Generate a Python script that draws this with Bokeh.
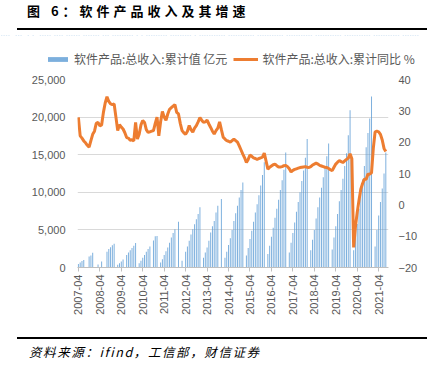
import math
import pandas as pd
from bokeh.plotting import figure
from bokeh.models import (ColumnDataSource, Range1d, LinearAxis, FixedTicker,
                          NumeralTickFormatter, Legend, LegendItem, Div)
from bokeh.layouts import column
from bokeh.embed import file_html
from bokeh.resources import INLINE

# ---------------- data ----------------
first_month = "2007-04"
last_month = "2021-08"

# cumulative revenue (亿元), None = no data that month
revenue_2007 = [450, 650, 850, 1000, None, None, 1450, 1600, 1950]
revenue_2008 = [None, None, 400, None, 800, None, None, 2100, 2450, 2700, 2950, 3150]
revenue_2009 = [None, 350, 550, 800, 1050, None, 1650, 2000, 2300, 2600, 2900, 3250]
revenue_2010 = [None, 550, 900, 1300, 1650, 2100, 2450, 2800, None, 3600, 4150, 4200]
revenue_2011 = [None, 650, 1100, 1650, 2150, 2650, 3300, 4000, 4600, 5100, None, 6100]
revenue_2012 = [None, 900, None, 2100, 2800, 3550, 4400, 5100, 5750, 6400, 7100, 8000]
revenue_2013 = [None, 1300, 2000, 2650, 3550, 4650, 5500, 6200, 7300, 8200, None, 9100]
revenue_2014 = [None, 1300, 2100, 3000, 3900, 5000, 6200, 7200, 8200, 9300, 10300, 11300]
revenue_2015 = [None, 1600, 2600, 3800, 4900, 6100, 7300, 8400, 9600, 10900, 12300, 14000]
revenue_2016 = [None, 1800, 2900, 4100, 5300, 6600, 7800, 9000, 10300, 11600, 13000, 15300]
revenue_2017 = [None, 2000, 3300, 4600, 6000, 7400, 8700, 10000, 11500, 12900, 14600, 17100]
revenue_2018 = [None, 2300, 3700, 5000, 6500, 8000, 9300, 10600, 12000, 13300, 14800, 16500]
revenue_2019 = [None, 2400, 4000, 5500, 7100, 8800, 10300, 11800, 13500, 15200, 17600, 20900]
revenue_2020 = [None, 2300, 4000, 5800, 7800, 9900, 11700, 13500, 16000, 17900, 19800, 22750]
revenue_2021 = [None, 2800, 5000, 6900, 8700, 10500, 12500, 15300]

# cumulative YoY growth (%)
growth_2007 = [27.9, 22.0, 21.3, 20.4, 19.8, 19.0, 18.4, 20.5, 22.5]
growth_2008 = [23.5, 26.0, 26.3, 25.2, 25.5, 29.5, 32.5, 34.5, 33.0, 32.2, 32.0, 32.2]
growth_2009 = [28.0, 23.7, 25.6, 24.8, 24.2, 23.0, 21.5, 21.3, 20.6, 20.8, 20.4, 26.3]
growth_2010 = [21.0, 22.5, 25.5, 26.9, 26.3, 24.0, 23.1, 23.3, 23.5, 23.7, 26.0, 28.0]
growth_2011 = [22.0, 26.5, 29.8, 28.0, 27.0, 29.0, 30.5, 31.0, 31.5, 32.0, 29.5, 29.0]
growth_2012 = [26.0, 23.7, 23.0, 22.5, 23.5, 25.3, 24.0, 23.2, 24.5, 25.3, 26.5, 27.8]
growth_2013 = [27.0, 26.3, 26.5, 27.0, 25.8, 24.7, 23.5, 22.6, 23.7, 24.5, 26.5, 24.0]
growth_2014 = [21.6, 21.0, 20.5, 20.3, 20.0, 20.5, 21.0, 20.5, 20.0, 18.8, 17.5, 16.2]
growth_2015 = [15.0, 13.5, 14.5, 15.9, 15.5, 15.0, 14.8, 14.5, 14.8, 15.0, 15.2, 16.5]
growth_2016 = [14.0, 11.4, 12.0, 12.4, 12.8, 13.0, 12.5, 12.1, 12.1, 12.2, 12.5, 12.6]
growth_2017 = [12.2, 11.5, 10.5, 11.0, 11.3, 11.5, 11.7, 11.9, 12.0, 12.1, 12.2, 12.0]
growth_2018 = [11.9, 12.2, 12.7, 13.0, 13.3, 13.0, 12.6, 12.4, 12.2, 12.0, 11.9, 11.6]
growth_2019 = [11.2, 10.9, 12.0, 13.0, 13.6, 14.1, 13.8, 13.5, 14.0, 14.5, 14.9, 16.3]
growth_2020 = [14.7, -13.6, -7.0, -2.4, 1.5, 5.0, 6.8, 8.2, 8.2, 9.8, 9.8, 10.2]
growth_2021 = [18.0, 23.3, 23.5, 23.3, 22.5, 20.7, 18.0, 17.0]

x_tick_labels = ["2007-04", "2008-04", "2009-04", "2010-04", "2011-04", "2012-04",
                 "2013-04", "2014-04", "2015-04", "2016-04", "2017-04", "2018-04",
                 "2019-04", "2020-04", "2021-04"]

left_ticks = [0, 5000, 10000, 15000, 20000, 25000]
right_ticks = [-20, -10, 0, 10, 20, 30, 40]

title_text = "图 6：软件产品收入及其增速"
source_text = "资料来源：ifind，工信部，财信证券"
bar_name = "软件产品:总收入:累计值 亿元"
line_name = "软件产品:总收入:累计同比 %"

# ---------------- assemble ----------------
months = [str(p) for p in pd.period_range(first_month, last_month, freq="M")]
revenue = (revenue_2007 + revenue_2008 + revenue_2009 + revenue_2010 + revenue_2011 +
           revenue_2012 + revenue_2013 + revenue_2014 + revenue_2015 + revenue_2016 +
           revenue_2017 + revenue_2018 + revenue_2019 + revenue_2020 + revenue_2021)
growth = (growth_2007 + growth_2008 + growth_2009 + growth_2010 + growth_2011 +
          growth_2012 + growth_2013 + growth_2014 + growth_2015 + growth_2016 +
          growth_2017 + growth_2018 + growth_2019 + growth_2020 + growth_2021)
idx = list(range(len(months)))

bar_src = ColumnDataSource(dict(
    x=[i for i, v in zip(idx, revenue) if v is not None],
    top=[v for v in revenue if v is not None]))
line_src = ColumnDataSource(dict(x=idx, y=growth))

TXT = "#595959"
NUM_FONT = "Liberation Sans"
CJK_FONT = "Noto Sans CJK SC"
BAR_COLOR = "#5B9BD5"
LINE_COLOR = "#ED7D31"

# ---------------- main chart ----------------
p = figure(width=421, height=263, output_backend="svg", toolbar_location=None,
           x_range=Range1d(-0.5, len(months) + 0.5), y_range=Range1d(0, 25000),
           min_border_left=77, min_border_right=33, min_border_top=10,
           min_border_bottom=65)
p.outline_line_color = None
p.background_fill_color = "white"
p.border_fill_color = "white"
p.extra_y_ranges = {"pct": Range1d(-20, 40)}

bars = p.vbar(x="x", top="top", width=0.55, source=bar_src,
              fill_color=BAR_COLOR, fill_alpha=0.8, line_color=None)
ln = p.line(x="x", y="y", source=line_src, y_range_name="pct",
            line_color=LINE_COLOR, line_width=3)

ya = p.yaxis[0]
ya.ticker = FixedTicker(ticks=left_ticks)
ya.formatter = NumeralTickFormatter(format="0,0")
ya.axis_line_color = None
ya.major_tick_line_color = None
ya.minor_tick_line_color = None
ya.major_tick_out = 0
ya.major_label_standoff = 12
ya.major_label_text_color = TXT
ya.major_label_text_font = NUM_FONT
ya.major_label_text_font_size = "11px"

ra = LinearAxis(y_range_name="pct", ticker=FixedTicker(ticks=right_ticks))
ra.axis_line_color = None
ra.major_tick_line_color = None
ra.minor_tick_line_color = None
ra.major_tick_out = 0
ra.major_label_standoff = 10
ra.major_label_text_color = TXT
ra.major_label_text_font = NUM_FONT
ra.major_label_text_font_size = "11px"
p.add_layout(ra, "right")

xa = p.xaxis[0]
tick_pos = [months.index(t) for t in x_tick_labels]
xa.ticker = FixedTicker(ticks=tick_pos)
xa.major_label_overrides = {pos: lab for pos, lab in zip(tick_pos, x_tick_labels)}
xa.major_label_orientation = math.pi / 2
xa.axis_line_color = "#BFBFBF"
xa.major_tick_line_color = "#BFBFBF"
xa.major_tick_out = 4
xa.major_tick_in = 0
xa.minor_tick_line_color = None
xa.major_label_standoff = 3
xa.major_label_text_color = TXT
xa.major_label_text_font = NUM_FONT
xa.major_label_text_font_size = "11px"

p.xgrid.grid_line_color = None
p.ygrid.ticker = FixedTicker(ticks=left_ticks)
p.ygrid.grid_line_color = "#D9D9D9"
p.ygrid.grid_line_width = 1

# ---------------- legend strip ----------------
# same data sources, drawn outside this strip's visible ranges; only the legend shows
lg = figure(width=421, height=34, output_backend="svg", toolbar_location=None,
            x_range=Range1d(-0.5, len(months) + 0.5), y_range=Range1d(-1e6, -9e5),
            min_border=0, min_border_left=0, min_border_right=0,
            min_border_top=0, min_border_bottom=0,
            x_axis_type=None, y_axis_type=None)
lg.outline_line_color = None
lg.xgrid.visible = False
lg.ygrid.visible = False
proxy_bar = lg.vbar(x="x", top="top", width=0.55, source=bar_src,
                    fill_color=BAR_COLOR, fill_alpha=0.8, line_color=None)
proxy_line = lg.line(x="x", y="y", source=line_src, line_color=LINE_COLOR,
                     line_width=3)
legend = Legend(items=[LegendItem(label=bar_name, renderers=[proxy_bar]),
                       LegendItem(label=line_name, renderers=[proxy_line])],
                orientation="horizontal", location=(45, 2),
                glyph_width=25, glyph_height=6, label_height=14,
                label_standoff=4, spacing=6, padding=0, margin=0,
                label_text_font=CJK_FONT, label_text_font_size="12px",
                label_text_color=TXT, background_fill_alpha=0,
                border_line_alpha=0)
lg.add_layout(legend)

# ---------------- title / source ----------------
title_div = Div(width=421, height=25, text=(
    '<div style="margin-left:12px;width:410px;height:25px;box-sizing:border-box;'
    'border-bottom:2px solid #000;">'
    '<div style="padding-left:10px;position:relative;top:-1px;font-family:\'Noto Sans CJK SC\';'
    'font-weight:bold;font-size:13px;letter-spacing:4px;line-height:14px;color:#000;">'
    + title_text + '</div></div>'))

source_div = Div(width=421, height=31, text=(
    '<div style="margin-left:12px;width:410px;height:31px;box-sizing:border-box;'
    'border-top:2px solid #000;">'
    '<div style="padding-left:12px;padding-top:6px;font-family:\'Noto Sans CJK SC\';'
    'font-style:italic;font-size:12.5px;letter-spacing:1.6px;line-height:14px;color:#000;">'
    + source_text + '</div></div>'))

# the legend strip sits in its own sub-column so its frame is not aligned to the chart's
layout = column(title_div, column(lg, width=421, height=34), p, source_div, spacing=0)

open("out.html", "w").write(file_html(layout, INLINE))
